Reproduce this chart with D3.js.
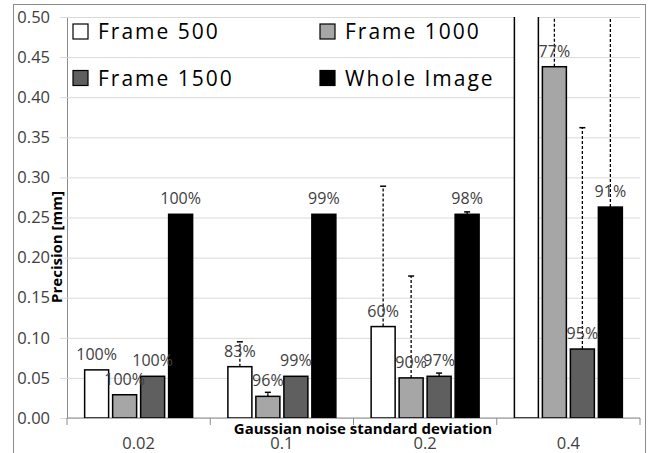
<!DOCTYPE html>
<html>
<head>
<meta charset="utf-8">
<script src="https://cdn.jsdelivr.net/npm/d3@7"></script>
<style>
  body { margin: 0; background: #fff; }
  text { font-family: 'Open Sans', sans-serif; }
</style>
</head>
<body>
<div id="chart"></div>
<script>
/* globals d3 */

// data
const categories = ['0.02', '0.1', '0.2', '0.4']
const seriesNames = ['Frame 500', 'Frame 1000', 'Frame 1500', 'Whole Image']
const yTicks = [0, 0.05, 0.1, 0.15, 0.2, 0.25, 0.3, 0.35, 0.4, 0.45, 0.5]

const frame500 = [0.060, 0.064, 0.114, 0.52]
const frame1000 = [0.029, 0.027, 0.050, 0.438]
const frame1500 = [0.052, 0.052, 0.052, 0.086]
const wholeImage = [0.254, 0.254, 0.254, 0.263]

// upper end of the error bars (null = none drawn)
const frame500Err = [null, 0.095, 0.289, null]
const frame1000Err = [null, 0.032, 0.177, 0.56]
const frame1500Err = [null, null, 0.056, 0.362]
const wholeImageErr = [null, null, 0.257, 0.56]

const frame500Labels = ['100%', '83%', '60%', '']
const frame1000Labels = ['100%', '96%', '90%', '77%']
const frame1500Labels = ['100%', '99%', '97%', '95%']
const wholeImageLabels = ['100%', '99%', '98%', '91%']

class PrecisionChart {

  constructor (target) {
    this._target = target
    this._options = {
      width: 652,
      height: 453,
      margin: {left: 67, right: 12, top: 17, bottom: 35},
      colors: ['#ffffff', '#a6a6a6', '#5f5f5f', '#000000'],
      gridColor: '#d9d9d9',
      axisColor: '#8c8c8c',
      textColor: '#404040'
    }
    const o = this._options
    this._x = d3.scaleBand().domain(categories).range([o.margin.left, o.width - o.margin.right])
    this._xInner = d3.scaleBand().domain(seriesNames)
      .range([0, this._x.bandwidth()])
      .paddingInner(0.143)
      .paddingOuter(0.63)
    this._y = d3.scaleLinear().domain([0, 0.5]).range([o.height - o.margin.bottom, o.margin.top])
  }

  _rows () {
    const values = [frame500, frame1000, frame1500, wholeImage]
    const errs = [frame500Err, frame1000Err, frame1500Err, wholeImageErr]
    const labels = [frame500Labels, frame1000Labels, frame1500Labels, wholeImageLabels]
    const rows = []
    categories.forEach((c, ci) => {
      seriesNames.forEach((s, si) => {
        rows.push({cat: c, series: s, si: si, value: values[si][ci], err: errs[si][ci], label: labels[si][ci]})
      })
    })
    return rows
  }

  _drawFrame () {
    const o = this._options
    this._svg.append('rect')
      .attr('x', 13.5).attr('y', 4.5)
      .attr('width', 632).attr('height', 470)
      .attr('fill', 'none')
      .attr('stroke', o.axisColor)
    this._svg.append('clipPath').attr('id', 'plot-clip')
      .append('rect')
      .attr('x', o.margin.left).attr('y', o.margin.top)
      .attr('width', o.width - o.margin.left - o.margin.right)
      .attr('height', o.height - o.margin.top - o.margin.bottom)
  }

  _drawAxis () {
    const o = this._options
    const y = this._y
    const x = this._x

    const yAxis = d3.axisLeft(y)
      .tickValues(yTicks)
      .tickFormat(d3.format('.2f'))
      .tickSize(-(o.width - o.margin.left - o.margin.right))
      .tickPadding(17)
    const gy = this._svg.append('g')
      .attr('transform', 'translate(' + o.margin.left + ',0)')
      .call(yAxis)
    gy.select('.domain').attr('stroke', o.axisColor)
    gy.selectAll('.tick line').attr('stroke', o.gridColor).attr('x1', -7)
    gy.selectAll('.tick text')
      .attr('fill', o.textColor)
      .style('font-size', '16.5px')
      .style('font-family', 'Open Sans')

    // x axis: ticks sit at category boundaries
    const xBase = o.height - o.margin.bottom
    const gx = this._svg.append('g')
    gx.append('line')
      .attr('x1', o.margin.left).attr('x2', o.width - o.margin.right)
      .attr('y1', xBase).attr('y2', xBase)
      .attr('stroke', o.axisColor)
    const bounds = categories.map(c => x(c)).concat([x(categories[categories.length - 1]) + x.bandwidth()])
    gx.selectAll('line.tick').data(bounds).enter().append('line')
      .attr('class', 'tick')
      .attr('x1', d => d).attr('x2', d => d)
      .attr('y1', xBase).attr('y2', xBase + 7)
      .attr('stroke', o.axisColor)
    gx.selectAll('text.cat').data(categories).enter().append('text')
      .attr('class', 'cat')
      .attr('x', d => x(d) + x.bandwidth() / 2)
      .attr('y', 449)
      .attr('text-anchor', 'middle')
      .attr('fill', o.textColor)
      .style('font-size', '16.5px')
      .text(d => d)

    this._svg.append('text')
      .attr('x', 363).attr('y', 434)
      .attr('text-anchor', 'middle')
      .attr('fill', '#000')
      .style('font-size', '15px')
      .style('font-weight', 'bold')
      .text('Gaussian noise standard deviation')

    this._svg.append('text')
      .attr('transform', 'translate(62,247) rotate(-90)')
      .attr('text-anchor', 'middle')
      .attr('fill', '#000')
      .style('font-size', '15px')
      .style('font-weight', 'bold')
      .text('Precision [mm]')
    return this
  }

  _drawBars () {
    const o = this._options
    const x = this._x
    const xi = this._xInner
    const y = this._y
    const rows = this._rows()
    const bx = d => x(d.cat) + xi(d.series)

    const plot = this._svg.append('g').attr('clip-path', 'url(#plot-clip)')
    plot.selectAll('rect.bar').data(rows).enter().append('rect')
      .attr('class', 'bar')
      .attr('x', bx)
      .attr('width', xi.bandwidth())
      .attr('y', d => y(d.value))
      .attr('height', d => y(0) - y(d.value))
      .attr('fill', d => o.colors[d.si])
      .attr('stroke', '#000')
      .attr('stroke-width', 1.5)

    const errRows = rows.filter(d => d.err !== null)
    const cx = d => bx(d) + xi.bandwidth() / 2
    plot.selectAll('line.err').data(errRows).enter().append('line')
      .attr('class', 'err')
      .attr('x1', cx).attr('x2', cx)
      .attr('y1', d => y(d.value)).attr('y2', d => y(d.err))
      .attr('stroke', '#000')
      .attr('stroke-width', 1.3)
      .attr('stroke-dasharray', '3,2')
    plot.selectAll('line.cap').data(errRows).enter().append('line')
      .attr('class', 'cap')
      .attr('x1', d => cx(d) - 3).attr('x2', d => cx(d) + 3)
      .attr('y1', d => y(d.err)).attr('y2', d => y(d.err))
      .attr('stroke', '#000')
      .attr('stroke-width', 1.5)

    this._svg.selectAll('text.pct').data(rows.filter(d => d.label)).enter().append('text')
      .attr('class', 'pct')
      .attr('x', cx)
      .attr('y', d => y(d.value) - 10)
      .attr('text-anchor', 'middle')
      .attr('fill', o.textColor)
      .style('font-size', '16px')
      .text(d => d.label)
    return this
  }

  _drawLegend () {
    const o = this._options
    const cols = [73, 320]
    const rowsY = [31.5, 78]
    const items = seriesNames.map((s, i) => ({name: s, i: i, x: cols[i % 2], y: rowsY[Math.floor(i / 2)]}))
    const g = this._svg.append('g')
    const item = g.selectAll('g').data(items).enter().append('g')
      .attr('transform', d => 'translate(' + d.x + ',' + d.y + ')')
    item.append('rect')
      .attr('x', 0).attr('y', -7.5)
      .attr('width', 15).attr('height', 15)
      .attr('fill', d => o.colors[d.i])
      .attr('stroke', '#000')
      .attr('stroke-width', 1.2)
    item.append('text')
      .attr('x', 25).attr('y', 7.5)
      .attr('fill', '#000')
      .style('font-size', '21px')
      .style('letter-spacing', '2px')
      .text(d => d.name)
    return this
  }

  draw () {
    const o = this._options
    this._svg = d3.select(this._target).append('svg')
      .attr('width', o.width)
      .attr('height', o.height)
    this._drawFrame()
    this._drawAxis()
    this._drawBars()
    this._drawLegend()
    return this
  }
}

new PrecisionChart('#chart').draw()
</script>
</body>
</html>
